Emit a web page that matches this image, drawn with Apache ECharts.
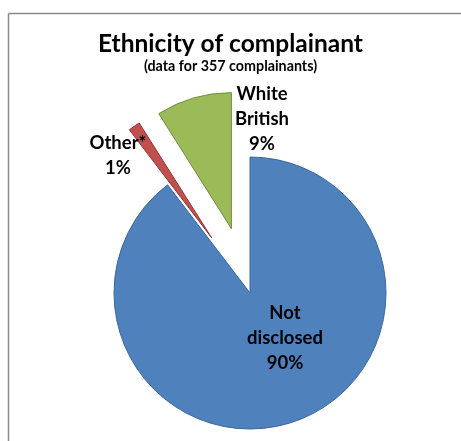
<!DOCTYPE html>
<html><head><meta charset="utf-8">
<script src="https://cdn.jsdelivr.net/npm/echarts@6/dist/echarts.min.js"></script>
<style>html,body{margin:0;padding:0;background:#fff}#c{width:461px;height:441px}</style>
</head><body><div id="c"></div>
<script>
const categories = ['Not disclosed', 'Other*', 'White British'];
// estimated complainant counts (total 357), shown as rounded percentages
const counts = [320, 5, 32];
const exploded = [false, true, true];
const colors = ['#4F81BD', '#C0504D', '#9BBB59'];
const borders = ['#3B679B', '#8E3532', '#718C3C'];
// label anchor points (centre of each text block)
const labelPos = [[285, 338], [118, 156], [262, 119]];

const chart = echarts.init(document.getElementById('c'));
const font = 'Lato, "Open Sans", sans-serif';
const pieBase = {
  type: 'pie',
  center: [250, 293],
  radius: 136,
  startAngle: 90,
  clockwise: true,
  percentPrecision: 0,
  avoidLabelOverlap: false,
  labelLine: {show: false},
  emphasis: {disabled: true}
};
chart.setOption({
  animation: false,
  title: {
    text: 'Ethnicity of complainant',
    subtext: '(data for 357 complainants)',
    left: 'center', top: 27, itemGap: 2,
    textStyle: {fontFamily: font, fontWeight: 'bold', fontSize: 24.5, color: '#000'},
    subtextStyle: {fontFamily: font, fontWeight: 'bold', fontSize: 14.3, color: '#000'}
  },
  graphic: [
    {type: 'line', shape: {x1: 8.5, y1: 13.5, x2: 461, y2: 13.5}, style: {stroke: '#8a8a8a', lineWidth: 1.5}},
    {type: 'line', shape: {x1: 8.5, y1: 13.5, x2: 8.5, y2: 441}, style: {stroke: '#8a8a8a', lineWidth: 1.5}}
  ],
  series: [
    Object.assign({}, pieBase, {
      selectedMode: 'multiple',
      selectedOffset: 67,
      label: {show: false},
      data: categories.map((c, i) => ({
        name: c, value: counts[i], selected: exploded[i],
        itemStyle: {color: colors[i], borderColor: borders[i], borderWidth: 1}
      }))
    }),
    Object.assign({}, pieBase, {
      silent: true,
      selectedMode: false,
      itemStyle: {color: 'rgba(0,0,0,0)', borderWidth: 0},
      label: {
        position: 'inside',
        fontFamily: font, fontWeight: 'bold', fontSize: 18.5, color: '#000', lineHeight: 25, align: 'center',
        formatter: p => p.name.replace(' ', '\n') + '\n' + p.percent + '%'
      },
      labelLayout: p => ({
        x: labelPos[p.dataIndex][0], y: labelPos[p.dataIndex][1],
        align: 'center', verticalAlign: 'middle', hideOverlap: false
      }),
      data: categories.map((c, i) => ({name: c, value: counts[i]}))
    })
  ]
});
</script>
</body></html>
